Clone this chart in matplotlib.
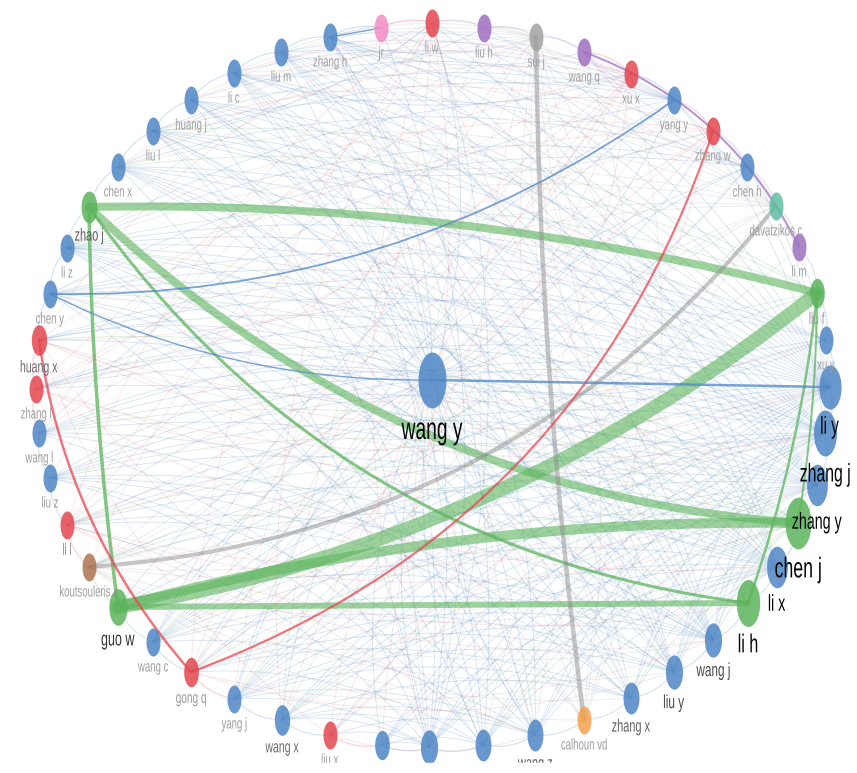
import numpy as np
import matplotlib
matplotlib.use("Agg")
import matplotlib.pyplot as plt
from matplotlib.path import Path
from matplotlib.patches import PathPatch
from matplotlib.textpath import TextPath
from matplotlib.font_manager import FontProperties
from matplotlib.transforms import Affine2D

# co-authorship map: author, map x, map y, cluster, weight (link strength)
names = ["wang y",
         "jr", "li w", "liu h", "sui j", "wang q", "xu x", "yang y", "zhang w",
         "chen h", "davatzikos c", "li m", "liu f", "xu y", "li y", "zhang j",
         "zhang y", "chen j", "li x", "li h", "wang j", "liu y", "zhang x",
         "calhoun vd", "wang z", "li j", "liu j", "wang h", "liu x", "wang x",
         "yang j", "gong q", "wang c", "guo w", "koutsouleris n", "li l", "liu z",
         "wang l", "zhang l", "huang x", "chen y", "li z", "zhao j", "chen x",
         "liu l", "huang j", "li c", "liu m", "zhang h"]
map_x = [0.00,
         -0.51, 0.00, 0.52, 1.04, 1.52, 1.99, 2.42, 2.81,
         3.15, 3.44, 3.67, 3.85, 3.94, 3.98, 3.93,
         3.85, 3.66, 3.45, 3.16, 2.81, 2.42, 1.99,
         1.52, 1.03, 0.51, -0.03, -0.50, -1.02, -1.50,
         -1.98, -2.41, -2.79, -3.14, -3.43, -3.65, -3.82,
         -3.93, -3.96, -3.93, -3.82, -3.65, -3.43, -3.14,
         -2.79, -2.41, -1.98, -1.51, -1.02]
map_y = [0.10,
         3.62, 3.67, 3.62, 3.53, 3.38, 3.16, 2.90, 2.59,
         2.23, 1.84, 1.43, 0.97, 0.50, 0.03, -0.43,
         -0.95, -1.33, -1.77, -2.13, -2.50, -2.82, -3.08,
         -3.30, -3.45, -3.55, -3.57, -3.55, -3.45, -3.30,
         -3.09, -2.82, -2.52, -2.17, -1.77, -1.35, -0.88,
         -0.43, 0.01, 0.50, 0.96, 1.42, 1.83, 2.23,
         2.59, 2.90, 3.17, 3.38, 3.53]
cluster = ["blue",
           "pink", "red", "purple", "gray", "purple", "red", "blue", "red",
           "blue", "teal", "purple", "green", "blue", "blue", "blue",
           "blue", "green", "blue", "green", "blue", "blue", "blue",
           "orange", "blue", "blue", "blue", "blue", "red", "blue",
           "blue", "red", "blue", "green", "brown", "red", "blue",
           "blue", "red", "red", "blue", "blue", "green", "blue",
           "blue", "blue", "blue", "blue", "blue"]
weight = [40,
          10, 10, 10, 10, 10, 10, 10, 10,
          10, 10, 10, 11, 10, 25, 27,
          22, 34, 22, 28, 15, 15, 13,
          10, 13, 13, 15, 11, 10, 12,
          10, 11, 10, 17, 10, 10, 10,
          10, 10, 12, 10, 10, 13, 10,
          10, 10, 10, 10, 10]

# strong links: source, target, strength, bend
main_links = [
    ("liu f", "zhao j", 8, 0.035),
    ("zhao j", "chen j", 8, 0.09),
    ("zhao j", "li h", 3, 0.11),
    ("zhao j", "guo w", 3.5, 0.015),
    ("guo w", "liu f", 14, 0.065),
    ("chen j", "guo w", 10, 0.035),
    ("guo w", "li h", 6, 0.0),
    ("li h", "liu f", 2.5, 0.03),
    ("chen j", "liu f", 2, 0.02),
    ("sui j", "calhoun vd", 4.5, 0.015),
    ("koutsouleris n", "davatzikos c", 4, 0.11),
    ("gong q", "zhang w", 2.2, 0.12),
    ("huang x", "gong q", 2.5, 0.075),
    ("li m", "wang q", 2, 0.1),
    ("wang y", "li y", 2.5, 0.0),
    ("chen y", "yang y", 1.8, 0.083),
    ("chen y", "wang y", 1.4, 0.06),
    ("zhang h", "jr", 1.5, 0.0),
]

# weak links, per author
weak_links = """
li y: zhang l, huang x, chen y, li z, wang l, liu z, zhao j, chen x, liu l, huang j, li c, liu m, zhang h, jr, li w, liu h, guo w, gong q, wang c, yang j, wang x, liu x, wang h, liu j, li j, wang z, zhang x, liu y, wang j, yang y, chen h
zhang j: wang l, liu z, li l, chen y, huang x, zhang l, li z, chen x, liu l, huang j, li c, wang c, gong q, yang j, wang x, wang h, liu j, li j, wang z, zhang x, liu y, wang j, li y, yang y, chen h, wang y
zhang y: liu z, li l, wang l, zhang l, chen y, li z, koutsouleris n, guo w, wang c, yang j, wang x, liu x, wang h, liu j, li j, wang z, liu y, wang j, chen x, liu l, huang j, li c, liu m, zhang h
chen j: li l, liu z, wang l, koutsouleris n, huang x, chen y, li z, wang c, gong q, wang x, liu j, li j, wang j, liu y, zhang x
li x: koutsouleris n, li l, liu z, wang l, zhang l, huang x, chen y, li z, chen x, huang j, liu m, zhang h, jr, li w, wang c, yang j, wang x, wang h, liu j, li j, wang z, zhang x, wang j, liu y
wang y: zhang l, huang x, wang l, li z, liu z, li l, chen x, liu l, huang j, li c, liu m, zhang h, li w, yang y, chen h, zhang w, xu y, zhang j, li x, wang j, liu y, zhang x, wang z, li j, liu j, wang h, wang x, yang j, wang c, guo w
wang j: wang c, guo w, gong q, yang j, liu l, chen x, li z, chen y, wang l, liu z, li l, huang j, li c, zhang h, liu m
liu y: gong q, wang c, yang j, li l, liu z, chen y, li z, chen x, liu l, huang j, li c, liu m
zhang x: yang j, wang x, gong q, liu z, wang l, li z, chen x, huang j, liu m
wang z: liu x, wang x, yang j, wang c, liu z, chen y, li z, liu l, li c, zhang h
liu j: li w, wang h, liu x, wang x, yang j, li l, chen y, chen x, huang j, liu m, zhang h, jr
li j: wang h, wang x, gong q, liu z, wang l, li z, liu l, li c, zhang h
yang y: li c, liu m, zhang h, huang j, liu l, chen x, li z, wang l, wang c, yang j
chen h: chen x, liu l, li z, chen y, wang c, gong q, liu m
xu y: huang x, chen y, li z, zhang l, wang c, yang j
zhang h: sui j, wang q, xu x
li c: xu x, liu h
liu l: zhang w, li w
sui j: zhang h, liu m, li c, huang j, chen x, li z, wang l, liu z, koutsouleris n, yang j, wang x, liu j, wang z, zhang x, liu y, wang j, li h, li x, zhang y, li y, chen h
koutsouleris n: calhoun vd, li m, chen h, yang y, xu x, wang q, liu h, li y, zhang j, li x, wang j, liu y, zhang x
davatzikos c: huang j, li c, liu m, chen x, li z, chen y, zhang l, wang l, calhoun vd, wang z, li j, wang x, yang j, gong q
calhoun vd: huang x, zhang l, chen y, liu l, li c, wang q, xu x, liu h
li w: gong q, wang x, li l, huang x, liu j, li x
xu x: li c, huang j, chen x, zhang l, li l, gong q, liu x, wang h
zhang w: liu l, li z, huang x, li l, wang x
huang x: xu y, li y, zhang j, zhang w, liu x, wang z
zhang l: li y, zhang j, li x, xu x, li w
li l: chen j, zhang y, li h, wang j, xu x, zhang w
gong q: li w, xu x, liu y, wang j
liu x: li w, xu x, zhang w, wang z
wang q: xu x, yang y, chen h, zhang w, liu h
liu f: li z, chen x, liu l, wang c, yang j
"""

# links between neighbouring authors around the map
ring_chain = ("zhang h - jr - li w - liu h - sui j - wang q - xu x - yang y - zhang w - chen h - "
              "davatzikos c - li m - liu f - xu y - li y - zhang j - zhang y - chen j - li x - li h - "
              "wang j - liu y - zhang x - calhoun vd - wang z - li j - liu j - wang h - liu x - wang x - "
              "yang j - gong q - wang c - guo w - koutsouleris n - li l - liu z - wang l - zhang l - "
              "huang x - chen y - li z - zhao j - chen x - liu l - huang j - li c - liu m - zhang h")

node_colors = {"blue": "#4f86c6", "red": "#e3464f", "green": "#5cb45c", "purple": "#a06fc0",
               "pink": "#f28cc4", "gray": "#a3a3a3", "teal": "#5fbfa2", "brown": "#ae744f",
               "orange": "#f6a04a"}
edge_colors = {"blue": "#4f86c6", "red": "#e8474f", "green": "#5cb45c", "purple": "#a06fc0",
               "pink": "#4f86c6", "gray": "#8f8f8f", "teal": "#8f8f8f", "brown": "#8f8f8f",
               "orange": "#8f8f8f"}
weak_alpha = {"blue": 0.2, "red": 0.13, "green": 0.2, "purple": 0.2, "pink": 0.2,
              "gray": 0.15, "teal": 0.15, "brown": 0.15, "orange": 0.15}

PX = 100.0      # pixels per map unit
SX = 0.62       # horizontal squeeze of the map
idx = {n: i for i, n in enumerate(names)}
pos = np.column_stack([map_x, map_y])
w = np.array(weight, dtype=float)
ry = 14 * np.sqrt(w / 10)          # node half height, px
em = 15.5 * np.sqrt(w / 10)        # label size, px

fig = plt.figure(figsize=(8.57, 7.73), dpi=100)
ax = fig.add_axes([0, 0, 1, 1])
ax.set_autoscale_on(False)
ax.set_xlim(-4.32, 4.25)
ax.set_ylim(-3.83, 3.90)
ax.axis("off")


def curve(a, b, bend):
    p0, p2 = pos[idx[a]], pos[idx[b]]
    d = p2 - p0
    ctrl = (p0 + p2) / 2 + 2 * bend * np.array([d[1], -d[0]])
    return Path([p0, ctrl, p2], [Path.MOVETO, Path.CURVE3, Path.CURVE3])


def link(a, b, bend, lw, alpha, z):
    col = edge_colors[cluster[idx[a]]]
    ax.add_patch(PathPatch(curve(a, b, bend), facecolor="none", edgecolor=col,
                           lw=lw, alpha=alpha, zorder=z, capstyle="round"))


# weak links
for line in weak_links.strip().splitlines():
    hub, others = line.split(":")
    hub = hub.strip()
    for other in others.split(","):
        link(hub, other.strip(), 0.08, 0.7, weak_alpha[cluster[idx[hub]]], 1)

chain = [s.strip() for s in ring_chain.split(" - ")]
for a, b in zip(chain[:-1], chain[1:]):
    link(b, a, 0.1, 0.8, 0.25, 1)

# strong links
for a, b, s, bend in main_links:
    c = cluster[idx[a]]
    if c in ("gray", "brown"):
        alpha = 0.5
    elif s >= 5:
        alpha = 0.6
    else:
        alpha = 0.75
    link(a, b, bend, s * 0.72, alpha, 2)

# nodes (ellipses, squeezed horizontally)
t = np.linspace(0, 2 * np.pi, 60)
ellipse = Path(np.column_stack([0.5 * np.cos(t), np.sin(t)]), closed=True)
order = np.argsort(w, kind="stable")
for i in order:
    ax.scatter(pos[i, 0], pos[i, 1], s=(2 * ry[i] * 0.72) ** 2, marker=ellipse,
               color=node_colors[cluster[i]], alpha=0.85, linewidths=0, zorder=3)

# labels
fp = FontProperties(family=["Liberation Sans", "DejaVu Sans"])
for i in order:
    tp = TextPath((0, 0), names[i], size=em[i], prop=fp)
    ext = tp.get_extents()
    cx = (ext.x0 + ext.x1) / 2
    base_y = pos[i, 1] - (ry[i] + em[i]) / PX
    tr = (Affine2D().translate(-cx, 0).scale(SX / PX, 1 / PX)
          .translate(pos[i, 0], base_y) + ax.transData)
    g = np.interp(w[i], [10, 11, 12, 17, 22], [0.62, 0.6, 0.42, 0.2, 0.02])
    ax.add_patch(PathPatch(tp, transform=tr, facecolor=str(g), edgecolor="none", zorder=5))

ax.axhspan(-3.95, -3.73, color="white", zorder=10)

fig.savefig("out.png", dpi=100)
